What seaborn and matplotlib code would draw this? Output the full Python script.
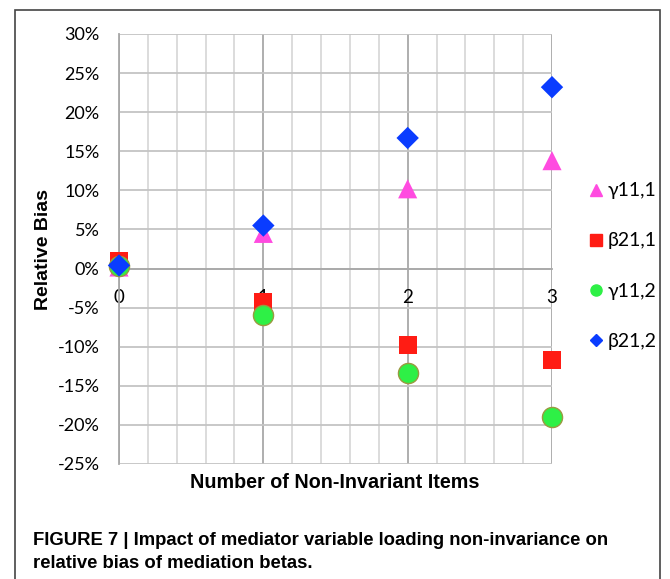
import numpy as np
import pandas as pd
import seaborn as sns
import matplotlib.pyplot as plt
from matplotlib.patches import Rectangle
from matplotlib.ticker import MultipleLocator, FuncFormatter

# данные (относительное смещение, %)
items = [0, 1, 2, 3]
gamma11_1 = [0.2, 4.5, 10.2, 13.8]
beta21_1 = [1.0, -4.3, -9.8, -11.7]
gamma11_2 = [0.3, -6.0, -13.3, -19.0]
beta21_2 = [0.4, 5.5, 16.7, 23.2]
series_names = ["γ11,1", "β21,1", "γ11,2", "β21,2"]

df = pd.DataFrame({
    "items": items * 4,
    "bias": gamma11_1 + beta21_1 + gamma11_2 + beta21_2,
    "series": np.repeat(series_names, len(items)),
})

sns.set_style("white")
plt.rcParams['font.family'] = ['Lato', 'DejaVu Sans']
plt.rcParams['text.color'] = 'black'
plt.rcParams['xtick.color'] = 'black'
plt.rcParams['ytick.color'] = 'black'
plt.rcParams['axes.labelcolor'] = 'black'

fig = plt.figure(figsize=(6.7, 5.79), dpi=100)
ax = fig.add_axes([119 / 670, 1 - 464 / 579, (552 - 119) / 670, (464 - 34) / 579])

palette = {"γ11,1": "#ff4be0", "β21,1": "#ff1c14", "γ11,2": "#2ef046", "β21,2": "#0a3cff"}
markers = {"γ11,1": "^", "β21,1": "s", "γ11,2": "o", "β21,2": "D"}
sizes = {"γ11,1": 190, "β21,1": 170, "γ11,2": 210, "β21,2": 130}

for name in series_names:
    sub = df[df["series"] == name]
    ec = "#9a9a40" if name == "γ11,2" else "none"
    sns.scatterplot(data=sub, x="items", y="bias", ax=ax, color=palette[name],
                    marker=markers[name], s=sizes[name], edgecolor=ec, linewidth=1,
                    clip_on=False, zorder=5, legend=False)

ax.set_xlim(0, 3)
ax.set_ylim(-25, 30)
ax.yaxis.set_major_locator(MultipleLocator(5))
ax.xaxis.set_major_locator(MultipleLocator(1))
ax.xaxis.set_minor_locator(MultipleLocator(0.2))
ax.yaxis.set_major_formatter(FuncFormatter(lambda v, p: f"{v:.0f}%"))

ax.grid(which="major", axis="y", color="#c4c4c4", linewidth=1.3)
ax.grid(which="minor", axis="x", color="#d9d9d9", linewidth=1.3)
ax.grid(which="major", axis="x", color="#a8a8a8", linewidth=1.3)

for s in ["top", "right"]:
    ax.spines[s].set_visible(False)
ax.spines["left"].set_color("#a8a8a8")
ax.spines["left"].set_linewidth(1.3)
ax.spines["bottom"].set_position(("data", 0))
ax.spines["bottom"].set_color("#a8a8a8")
ax.spines["bottom"].set_linewidth(1.3)
ax.tick_params(axis="both", which="both", length=0)
ax.tick_params(axis="x", pad=15, labelsize=13.5)
ax.tick_params(axis="y", pad=14, labelsize=13)

ax.set_xlabel("")
ax.set_ylabel("Relative Bias", family=["Liberation Sans"], fontweight="bold", fontsize=14, labelpad=4)
fig.text(335 / 670, 1 - 483 / 579, "Number of Non-Invariant Items", family=["Liberation Sans"],
         fontweight="bold", fontsize=14.2, ha="center", va="center")

handles = [plt.Line2D([], [], linestyle="none", marker=markers[n], color=palette[n],
                      markersize=8 if n != "β21,2" else 6.5) for n in series_names]
fig.legend(handles, series_names, loc="center left", bbox_to_anchor=(0.85, 1 - 266 / 579),
           frameon=False, fontsize=14, labelspacing=1.7, handletextpad=0.15, handlelength=0.9)

fig.text(33 / 670, 1 - 552 / 579,
         "FIGURE 7 | Impact of mediator variable loading non-invariance on\nrelative bias of mediation betas.",
         family=["Liberation Sans"], fontweight="bold", fontsize=13.3, ha="left", va="center",
         linespacing=1.4)

fig.patches.append(Rectangle((15 / 670, -0.05), (660 - 15) / 670, 1 - 10 / 579 + 0.05,
                             transform=fig.transFigure, fill=False, edgecolor="#444444",
                             linewidth=1.2, zorder=0))

fig.savefig("out.png", dpi=100)
